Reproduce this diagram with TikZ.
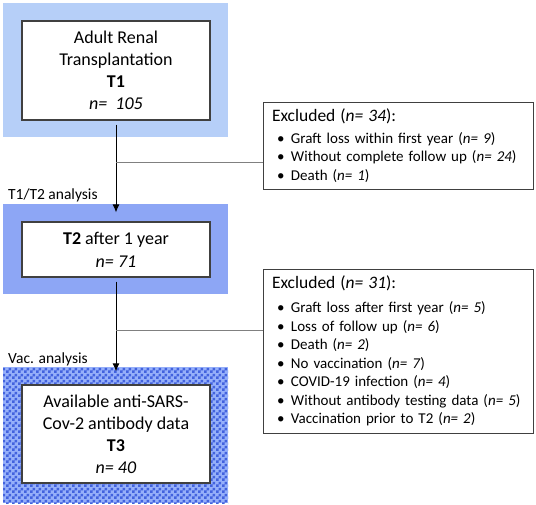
\documentclass[tikz,border=0pt]{standalone}
\usepackage{fontspec}
\setmainfont{Carlito}
\usetikzlibrary{arrows.meta, patterns}

\definecolor{bandone}{RGB}{182,207,248}
\definecolor{bandtwo}{RGB}{141,166,245}
\definecolor{bandlight}{RGB}{150,176,250}
\definecolor{banddark}{RGB}{66,98,222}
\definecolor{boxline}{RGB}{64,64,64}

% larger checker cells than the stock pattern
\pgfdeclarepatternformonly{bigchecker}{\pgfpointorigin}{\pgfqpoint{6pt}{6pt}}{\pgfqpoint{6pt}{6pt}}
{
    \pgfpathrectangle{\pgfpointorigin}{\pgfqpoint{3pt}{3pt}}
    \pgfpathrectangle{\pgfqpoint{3pt}{3pt}}{\pgfqpoint{3pt}{3pt}}
    \pgfusepath{fill}
}

\newcommand{\blt}{\hspace*{5pt}\makebox[14pt][l]{\textbullet}}
\newcommand{\exhead}[1]{{\fontsize{17.5}{18.5}\selectfont Excluded (\textit{n= #1}):}}

\tikzset{
    band/.style={minimum width=225pt, outer sep=0pt, inner sep=0pt},
    stagebox/.style={draw=boxline, line width=1.2pt, fill=white, minimum width=188pt,
        align=center, font=\fontsize{18}{22}\selectfont},
    exclbox/.style={draw=boxline, line width=0.9pt, fill=white, minimum width=270pt,
        inner xsep=9pt, align=left, text width=252pt, font=\fontsize{15}{18.5}\selectfont},
    flow/.style={-{Latex[length=8pt,width=7pt]}, line width=1pt},
    branch/.style={draw=gray, line width=0.8pt},
    bandlabel/.style={anchor=west, inner sep=0pt, font=\fontsize{15.5}{17}\selectfont}
}

\begin{document}
\begin{tikzpicture}[x=1pt, y=-1pt]
    \useasboundingbox (0,0) rectangle (536,505);

    % coloured bands
    \node[band, fill=bandone, minimum height=134pt] (band1) at (115.5,70) {};
    \node[band, fill=bandtwo, minimum height=90pt] (band2) at (115.5,249) {};
    \node[band, fill=bandlight, minimum height=136pt,
        postaction={pattern=bigchecker, pattern color=banddark}] (band3) at (115.5,435) {};

    % stages
    \node[stagebox, minimum height=99pt] (t1) at (116,70.5)
        {Adult Renal\\Transplantation\\\textbf{T1}\\\textit{n=\ \ 105}};
    \node[stagebox, minimum height=55pt, font=\fontsize{18}{23}\selectfont] (t2) at (116,249.5)
        {\textbf{T2} after 1 year\\\textit{n= 71}};
    \node[stagebox, minimum height=98pt] (t3) at (116,434)
        {Available anti-SARS-\\Cov-2 antibody data\\\textbf{T3}\\\textit{n= 40}};

    % band labels
    \node[bandlabel] (lab12) at (8,195) {T1/T2 analysis};
    \node[bandlabel] (labvac) at (8,359) {Vac. analysis};

    % exclusions
    \node[exclbox, minimum height=87pt] (excl1) at (398,145.5)
        {\exhead{34}\\[3pt]
        \blt Graft loss within first year (\textit{n= 9})\\
        \blt Without complete follow up (\textit{n= 24})\\
        \blt Death (\textit{n= 1})};
    \node[exclbox, minimum height=164pt] (excl2) at (398,351)
        {\exhead{31}\\[6pt]
        \blt Graft loss after first year (\textit{n= 5})\\
        \blt Loss of follow up (\textit{n= 6})\\
        \blt Death (\textit{n= 2})\\
        \blt No vaccination (\textit{n= 7})\\
        \blt COVID-19 infection (\textit{n= 4})\\
        \blt Without antibody testing data (\textit{n= 5})\\
        \blt Vaccination prior to T2 (\textit{n= 2})};

    % connectors
    \draw[flow, shorten <=4pt, shorten >=9pt] (t1.south) -- (t2.north);
    \draw[flow, shorten <=4pt, shorten >=13pt] (t2.south) -- (t3.north);
    \coordinate (split1) at (116,162);
    \coordinate (split2) at (116,330);
    \draw[branch] (split1) -- (split1 -| excl1.west);
    \draw[branch] (split2) -- (split2 -| excl2.west);
\end{tikzpicture}
\end{document}
